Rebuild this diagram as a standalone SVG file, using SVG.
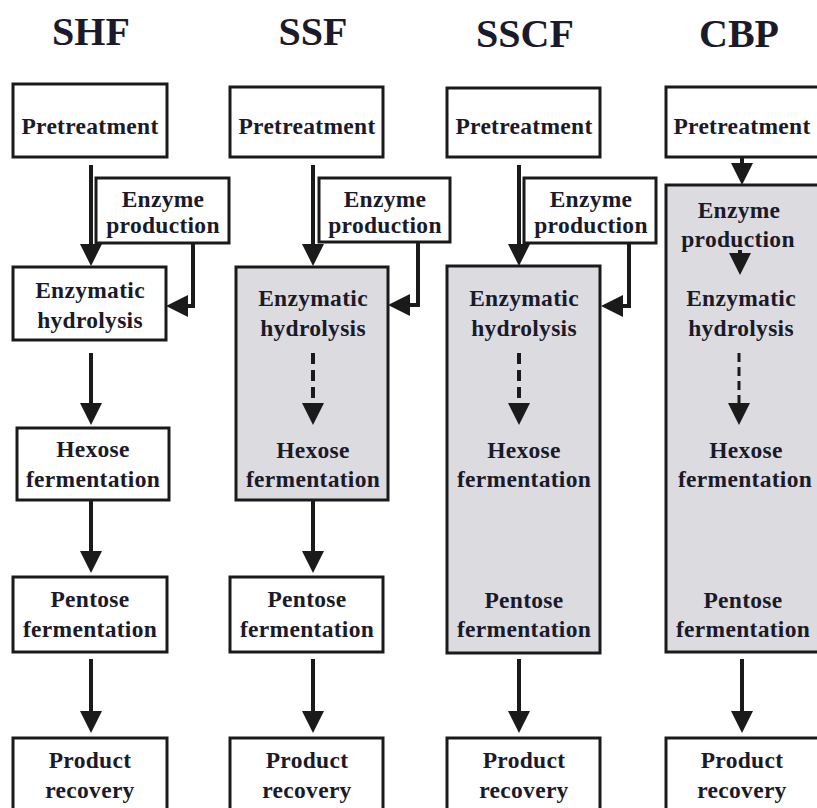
<svg xmlns="http://www.w3.org/2000/svg" width="817" height="808" viewBox="0 0 817 808">
<style>
.bx{fill:#fff;stroke:#1a1a1a;stroke-width:3}
.sh{fill:#dcdce0;stroke:#1a1a1a;stroke-width:3}
.t{font-family:"Liberation Serif","Times New Roman",serif;font-weight:bold;font-size:23.5px;letter-spacing:0.3px;text-anchor:middle;fill:#1a1a2a}
.ttl{font-family:"Liberation Serif","Times New Roman",serif;font-weight:bold;font-size:40px;text-anchor:middle;fill:#1a1a2a}
.ln{fill:none;stroke:#1a1a1a;stroke-width:4;marker-end:url(#ah)}
.dl{fill:none;stroke:#1a1a1a;stroke-width:4;stroke-dasharray:11 6;marker-end:url(#ah)}
</style>
<defs>
<marker id="ah" markerUnits="userSpaceOnUse" markerWidth="22" markerHeight="22" refX="1" refY="11" orient="auto">
<path d="M0,0 L22,11 L0,22 Z" fill="#1a1a1a"/>
</marker>
</defs>
<rect width="817" height="808" fill="#fff"/>

<g id="titles">
<text class="ttl" x="91" y="45">SHF</text>
<text class="ttl" x="313" y="45">SSF</text>
<text class="ttl" x="525" y="47">SSCF</text>
<text class="ttl" x="739" y="47">CBP</text>
</g>

<g id="ssf-combined"><rect class="sh" x="236" y="267" width="152" height="233"/>
<text class="t" x="313" y="306">Enzymatic</text><text class="t" x="313" y="336">hydrolysis</text>
<text class="t" x="313" y="458">Hexose</text><text class="t" x="313" y="487">fermentation</text></g>
<g id="sscf-combined"><rect class="sh" x="447" y="266" width="153" height="387"/>
<text class="t" x="524" y="306">Enzymatic</text><text class="t" x="524" y="336">hydrolysis</text>
<text class="t" x="524" y="458">Hexose</text><text class="t" x="524" y="487">fermentation</text>
<text class="t" x="524" y="608">Pentose</text><text class="t" x="524" y="637">fermentation</text></g>
<g id="cbp-combined"><rect class="sh" x="666" y="185" width="160" height="467"/>
<text class="t" x="739" y="218">Enzyme</text><text class="t" x="738" y="247">production</text>
<text class="t" x="741" y="306">Enzymatic</text><text class="t" x="741" y="336">hydrolysis</text>
<text class="t" x="746" y="458">Hexose</text><text class="t" x="745" y="487">fermentation</text>
<text class="t" x="743" y="608">Pentose</text><text class="t" x="743" y="637">fermentation</text></g>

<g id="shf-pretreatment"><rect class="bx" x="13" y="84" width="154" height="73"/><text class="t" x="90" y="134">Pretreatment</text></g>
<g id="shf-enzyme"><rect class="bx" x="96" y="178" width="133" height="65"/><text class="t" x="163" y="207">Enzyme</text><text class="t" x="163" y="233">production</text></g>
<g id="shf-hydrolysis"><rect class="bx" x="13" y="267" width="153" height="73"/><text class="t" x="90" y="298">Enzymatic</text><text class="t" x="90" y="328">hydrolysis</text></g>
<g id="shf-hexose"><rect class="bx" x="17" y="428" width="152" height="72"/><text class="t" x="93" y="457">Hexose</text><text class="t" x="93" y="487">fermentation</text></g>
<g id="shf-pentose"><rect class="bx" x="13" y="577" width="154" height="75"/><text class="t" x="90" y="607">Pentose</text><text class="t" x="90" y="637">fermentation</text></g>
<g id="shf-product"><rect class="bx" x="13" y="738" width="154" height="80"/><text class="t" x="90" y="768">Product</text><text class="t" x="90" y="798">recovery</text></g>

<g id="ssf-pretreatment"><rect class="bx" x="230" y="87" width="153" height="70"/><text class="t" x="307" y="134">Pretreatment</text></g>
<g id="ssf-enzyme"><rect class="bx" x="319" y="178" width="131" height="64"/><text class="t" x="385" y="207">Enzyme</text><text class="t" x="385" y="233">production</text></g>
<g id="ssf-pentose"><rect class="bx" x="230" y="577" width="153" height="75"/><text class="t" x="307" y="607">Pentose</text><text class="t" x="307" y="637">fermentation</text></g>
<g id="ssf-product"><rect class="bx" x="230" y="738" width="153" height="80"/><text class="t" x="307" y="768">Product</text><text class="t" x="307" y="798">recovery</text></g>

<g id="sscf-pretreatment"><rect class="bx" x="447" y="88" width="153" height="69"/><text class="t" x="524" y="134">Pretreatment</text></g>
<g id="sscf-enzyme"><rect class="bx" x="524" y="178" width="132" height="65"/><text class="t" x="591" y="207">Enzyme</text><text class="t" x="591" y="233">production</text></g>
<g id="sscf-product"><rect class="bx" x="447" y="738" width="153" height="80"/><text class="t" x="524" y="768">Product</text><text class="t" x="524" y="798">recovery</text></g>

<g id="cbp-pretreatment"><rect class="bx" x="666" y="87" width="160" height="70"/><text class="t" x="742" y="134">Pretreatment</text></g>
<g id="cbp-product"><rect class="bx" x="666" y="738" width="160" height="80"/><text class="t" x="742" y="768">Product</text><text class="t" x="742" y="798">recovery</text></g>

<g id="connectors">
<path class="ln" d="M91,165 V245"/>
<path class="ln" d="M193,243 V306 H187"/>
<path class="ln" d="M91,353 V404"/>
<path class="ln" d="M91,500 V552"/>
<path class="ln" d="M91,659 V712"/>

<path class="ln" d="M313,165 V245"/>
<path class="ln" d="M418,242 V305 H409"/>
<path class="dl" d="M313,353 V404"/>
<path class="ln" d="M313,500 V552"/>
<path class="ln" d="M313,659 V712"/>

<path class="ln" d="M519,165 V245"/>
<path class="ln" d="M629,243 V306 H622"/>
<path class="dl" d="M519,353 V404"/>
<path class="ln" d="M519,659 V712"/>

<path class="ln" d="M742,157 V164"/>
<path class="ln" d="M740,250 V254"/>
<path class="dl" style="stroke-width:3;stroke-dasharray:9 5" d="M739,353 V404"/>
<path class="ln" d="M742,659 V712"/>
</g>
</svg>
